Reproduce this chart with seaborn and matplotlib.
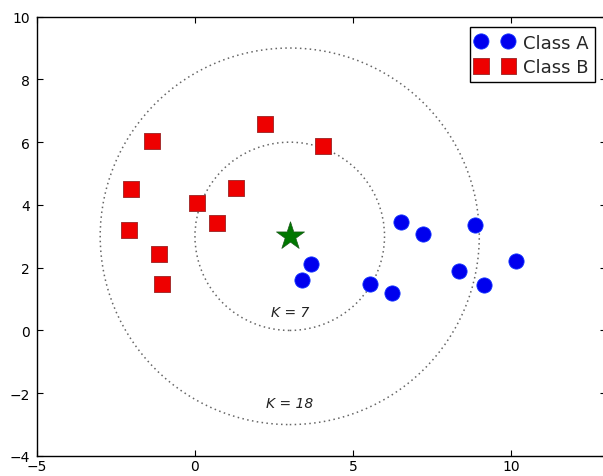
import matplotlib
matplotlib.use("Agg")
import matplotlib.pyplot as plt
import seaborn as sns
import pandas as pd
from matplotlib.patches import Circle

# Class A (blue circles)
a_x = [6.53, 7.21, 8.86, 3.68, 3.38, 5.54, 6.25, 8.36, 9.15, 10.17]
a_y = [3.45, 3.08, 3.37, 2.13, 1.61, 1.47, 1.18, 1.91, 1.44, 2.21]

# Class B (red squares)
b_x = [-1.35, 2.21, 4.04, -2.01, 1.29, 0.07, 0.70, -2.08, -1.13, -1.05]
b_y = [6.04, 6.57, 5.88, 4.51, 4.54, 4.07, 3.43, 3.19, 2.45, 1.47]

query = (3.0, 3.0)
radii = [3, 6]
k_labels = ["K = 7", "K = 18"]
k_label_y = [0.6, -2.3]

sns.set_style("ticks")
plt.rcParams.update({
    "xtick.direction": "in",
    "ytick.direction": "in",
    "xtick.top": True,
    "ytick.right": True,
    "axes.edgecolor": "black",
    "axes.linewidth": 1.0,
    "font.family": ["DejaVu Sans"],
})

df_a = pd.DataFrame({"x": a_x, "y": a_y})
df_b = pd.DataFrame({"x": b_x, "y": b_y})

fig = plt.figure(figsize=(6.03, 4.77), dpi=100)
ax = fig.add_axes([0.0614, 0.042, 0.943, 0.921])

sns.scatterplot(data=df_a, x="x", y="y", ax=ax, color="#0000ee", marker="o",
                s=120, edgecolor="#1133ff", linewidth=0.6, label="Class A", zorder=3)
sns.scatterplot(data=df_b, x="x", y="y", ax=ax, color="#ee0000", marker="s",
                s=130, edgecolor="#992222", linewidth=0.6, label="Class B", zorder=3)
ax.scatter([query[0]], [query[1]], marker="*", s=450, color="#007700",
           edgecolor="#1a5a1a", linewidth=0.5, zorder=4)

for r in radii:
    ax.add_patch(Circle(query, r, fill=False, linestyle=(0, (1, 2.2)),
                        edgecolor="#666666", linewidth=1.1, zorder=2))

for lab, ly in zip(k_labels, k_label_y):
    ax.text(query[0], ly, lab, ha="center", va="center", style="italic",
            fontsize=10, color="#222222")

ax.set_xlim(-5, 13)
ax.set_ylim(-4, 10)
ax.set_xticks([-5, 0, 5, 10])
ax.set_yticks([-4, -2, 0, 2, 4, 6, 8, 10])
ax.set_xlabel("")
ax.set_ylabel("")
ax.tick_params(labelsize=10, length=4, colors="black")
ax.tick_params(axis="x", pad=2)
ax.tick_params(axis="y", pad=5)
for s in ax.spines.values():
    s.set_visible(True)

leg = ax.legend(loc="upper right", scatterpoints=2, scatteryoffsets=[0.5],
                fontsize=13, fancybox=False, edgecolor="black", framealpha=1,
                borderaxespad=0.6, handletextpad=0.5, handlelength=2.1,
                borderpad=0.35, labelspacing=0.35)
leg.get_frame().set_linewidth(1.0)

fig.savefig("out.png", dpi=100)
plt.close()
